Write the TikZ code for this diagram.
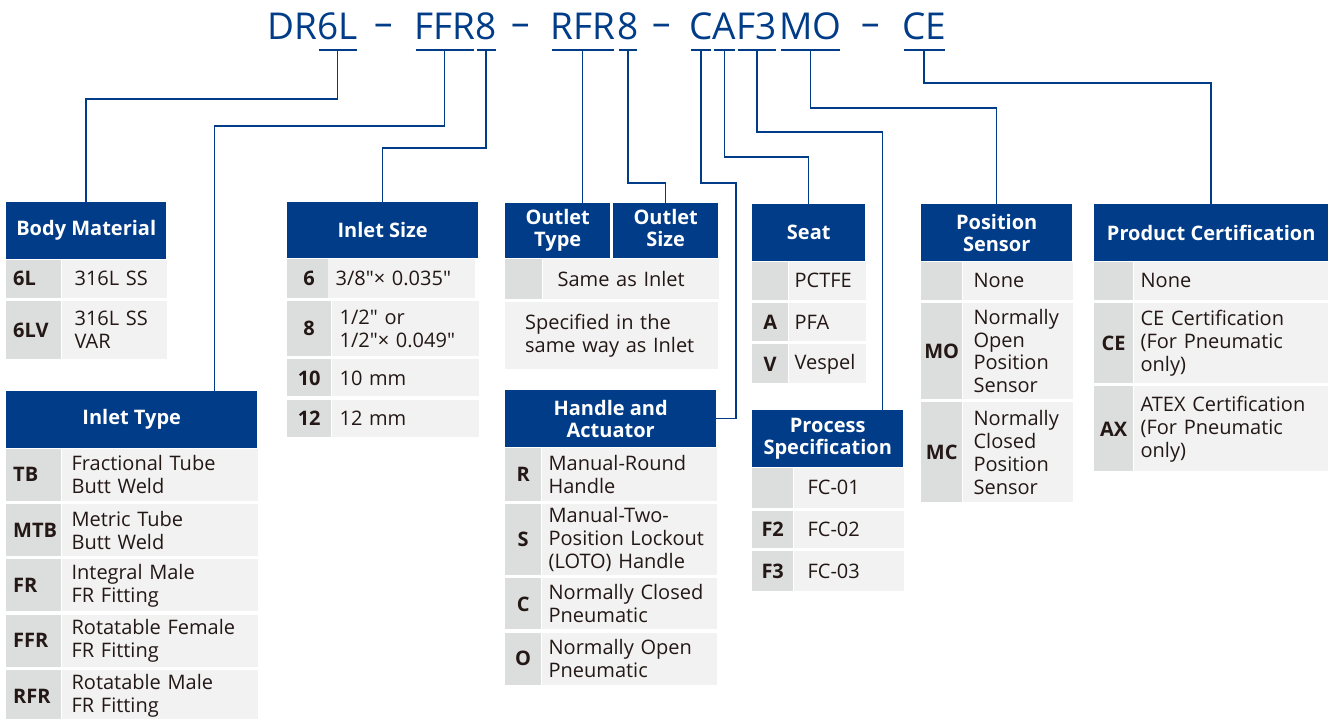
\documentclass[tikz,border=0pt]{standalone}
\usepackage{fontspec}
\setmainfont{Open Sans}[Ligatures=TeXOff]
\usepackage{tikz}
\usetikzlibrary{positioning,calc}

\definecolor{hblue}{RGB}{0,60,135}
\definecolor{cgray}{RGB}{220,221,221}
\definecolor{dgray}{RGB}{242,242,242}
\definecolor{ink}{RGB}{35,24,21}

\newcommand\bodyfont{\fontsize{20}{23}\selectfont}
\newcommand\hdfont{\fontsize{20}{22}\selectfont\bfseries}
\newcommand\segfont{\fontsize{37}{40}\selectfont}

% one table row: [desc opts]{node above}{name}{gap}{height}{code}{text}
\newcommand\trow[7][]{%
  \node[code, minimum height=#5] (#3c) at ([yshift=-#4]#2.south west) {#6};
  \node[desc, minimum height=#5, #1] (#3) at (#3c.north east) {#7};
}

\begin{document}
\begin{tikzpicture}[x=1pt, y=-1pt,
    hd/.style={fill=hblue, text=white, font=\hdfont, align=center, inner sep=0pt, anchor=north west},
    cd/.style={fill=cgray, text=ink, font=\bodyfont\bfseries, inner sep=0pt, anchor=north west},
    ds/.style={fill=dgray, text=ink, font=\bodyfont, align=left, inner ysep=0pt, anchor=north west},
    seg/.style={text=hblue, font=\segfont, inner sep=0pt, text depth=10pt, anchor=base west},
    ul/.style={hblue, line width=1.5pt, shorten <=1.5pt, shorten >=1.5pt},
    link/.style={hblue, line width=1.5pt}]
  \useasboundingbox (0,0) rectangle (1328,719);

  % ordering code
  \node[seg] (dr) at (267,40) {DR};
  \node[seg] (m6l) at (dr.base east) {6L};
  \node[seg, anchor=base] (d1) at (384,40) {\raisebox{4pt}{–}};
  \node[seg] (ffr) at (414,40) {FFR};
  \node[seg] (e8) at (ffr.base east) {8};
  \node[seg, anchor=base] (d2) at (521,40) {\raisebox{4pt}{–}};
  \node[seg] (rfr) at (550,40) {RFR};
  \node[seg] (o8) at ([xshift=2pt]rfr.base east) {8};
  \node[seg, anchor=base] (d3) at (662,40) {\raisebox{4pt}{–}};
  \node[seg] (c) at (689,40) {C};
  \node[seg] (a) at (c.base east) {A};
  \node[seg] (f3) at (a.base east) {F3};
  \node[seg] (mo) at ([xshift=2pt]f3.base east) {MO};
  \node[seg, anchor=base] (d4) at (871,40) {\raisebox{4pt}{–}};
  \node[seg] (ce) at (902,40) {CE};
  \foreach \s in {m6l,ffr,e8,rfr,o8,c,a,f3,mo,ce}
    \draw[ul] (\s.south west) -- (\s.south east);

  % Body Material
  \begin{scope}[code/.style={cd, text width=41pt, inner xsep=7pt, align=left},
                desc/.style={ds, text width=79pt, inner xsep=13pt}]
    \node[hd, minimum width=160pt, minimum height=57pt] (bmhd) at (6,202) {Body Material};
    \trow{bmhd}{bm1}{0pt}{38pt}{6L}{316L SS}
    \trow{bm1c}{bm2}{3pt}{58pt}{6LV}{316L SS\\VAR}
  \end{scope}

  % Inlet Type
  \begin{scope}[code/.style={cd, text width=41pt, inner xsep=7pt, align=left},
                desc/.style={ds, text width=176pt, inner xsep=10pt}]
    \node[hd, minimum width=251pt, minimum height=57pt] (ithd) at (6,391) {Inlet Type};
    \trow{ithd}{it1}{0pt}{52pt}{TB}{Fractional Tube\\Butt Weld}
    \trow{it1c}{it2}{3pt}{52pt}{MTB}{Metric Tube\\Butt Weld}
    \trow{it2c}{it3}{3pt}{52pt}{FR}{Integral Male\\FR Fitting}
    \trow{it3c}{it4}{3pt}{52pt}{FFR}{Rotatable Female\\FR Fitting}
    \trow{it4c}{it5}{3pt}{52pt}{RFR}{Rotatable Male\\FR Fitting}
  \end{scope}

  % Inlet Size
  \begin{scope}[code/.style={cd, minimum width=44pt},
                desc/.style={ds, text width=131pt, inner xsep=8pt}]
    \node[hd, minimum width=191pt, minimum height=56pt] (ishd) at (287,202) {Inlet Size};
    \trow[xshift=-4pt]{ishd}{is1}{0pt}{39pt}{6}{3/8"× 0.035"}
    \trow{is1c}{is2}{3pt}{55pt}{8}{1/2" or\\1/2"× 0.049"}
    \trow{is2c}{is3}{3pt}{37pt}{10}{10 mm}
    \trow{is3c}{is4}{3pt}{37pt}{12}{12 mm}
  \end{scope}

  % Outlet Type / Outlet Size
  \begin{scope}[code/.style={cd, minimum width=37pt},
                desc/.style={ds, text width=146pt, inner xsep=15pt}]
    \node[hd, minimum width=105pt, minimum height=55pt] (othd) at (505,203) {Outlet\\Type};
    \node[hd, minimum width=105pt, minimum height=55pt] (oshd) at (613,203) {Outlet\\Size\vphantom{y}};
    \trow{othd}{ot1}{0pt}{40pt}{}{Same as Inlet}
    \node[ds, text width=173pt, inner xsep=20pt, minimum height=67pt] (ot2)
      at ([yshift=-3pt]ot1c.south west) {Specified in the\\same way as Inlet};
  \end{scope}

  % Handle and Actuator
  \begin{scope}[code/.style={cd, minimum width=36pt},
                desc/.style={ds, text width=161pt, inner xsep=7pt}]
    \node[hd, minimum width=211pt, minimum height=57pt] (hahd) at (505,390) {Handle and\\Actuator};
    \trow{hahd}{ha1}{0pt}{53pt}{R}{Manual-Round\\Handle}
    \trow{ha1c}{ha2}{3pt}{71pt}{S}{Manual-Two-\\Position Lockout\\(LOTO) Handle}
    \trow{ha2c}{ha3}{3pt}{51pt}{C}{Normally Closed\\Pneumatic}
    \trow{ha3c}{ha4}{3pt}{52pt}{O}{Normally Open\\Pneumatic}
  \end{scope}

  % Seat
  \begin{scope}[code/.style={cd, minimum width=36pt},
                desc/.style={ds, text width=65pt, inner xsep=6pt}]
    \node[hd, minimum width=113pt, minimum height=57pt] (sthd) at (752,204) {Seat};
    \trow{sthd}{st1}{0pt}{38pt}{}{PCTFE}
    \trow{st1c}{st2}{3pt}{38pt}{A}{PFA}
    \trow{st2c}{st3}{3pt}{39pt}{V}{Vespel}
  \end{scope}

  % Process Specification
  \begin{scope}[code/.style={cd, minimum width=41pt},
                desc/.style={ds, text width=82pt, inner xsep=14pt}]
    \node[hd, minimum width=151pt, minimum height=57pt] (pshd) at (752,410) {Process\\Specification};
    \trow{pshd}{ps1}{0pt}{40pt}{}{FC-01}
    \trow{ps1c}{ps2}{3pt}{37pt}{F2}{FC-02}
    \trow{ps2c}{ps3}{3pt}{40pt}{F3}{FC-03}
  \end{scope}

  % Position Sensor
  \begin{scope}[code/.style={cd, minimum width=41pt},
                desc/.style={ds, text width=88pt, inner xsep=11pt}]
    \node[hd, minimum width=151pt, minimum height=57pt] (pohd) at (921,204) {Position\\Sensor};
    \trow{pohd}{po1}{0pt}{38pt}{}{None}
    \trow{po1c}{po2}{3pt}{96pt}{MO}{Normally\\Open\\Position\\Sensor}
    \trow{po2c}{po3}{3pt}{100pt}{MC}{Normally\\Closed\\Position\\Sensor}
  \end{scope}

  % Product Certification
  \begin{scope}[code/.style={cd, minimum width=39pt},
                desc/.style={ds, text width=181pt, inner xsep=7pt}]
    \node[hd, minimum width=234pt, minimum height=57pt] (pchd) at (1094,204) {Product Certification};
    \trow{pchd}{pc1}{0pt}{38pt}{}{None}
    \trow{pc1c}{pc2}{3pt}{80pt}{CE}{CE Certification\\(For Pneumatic\\only)}
    \trow{pc2c}{pc3}{3pt}{85pt}{AX}{ATEX Certification\\(For Pneumatic\\only)}
  \end{scope}

  % connectors
  \draw[link] (m6l.south) -- ++(0,49) -| (bmhd.north);
  \draw[link] (ffr.south) -- ++(0,76) -| ([xshift=-43pt]ithd.north east);
  \draw[link] (e8.south) -- ++(0,98) -| (ishd.north);
  \draw[link] (rfr.south) -- (rfr.south |- othd.north);
  \draw[link] (o8.south) -- ++(0,133) -| (oshd.north);
  \draw[link] (c.south) -- ++(0,133) -- ++(35,0) |- (hahd.east);
  \draw[link] (a.south) -- ++(0,107) -| (sthd.north);
  \draw[link] (f3.south) -- ++(0,82) -| ([xshift=-21pt]pshd.north east);
  \draw[link] (mo.south) -- ++(0,58) -| (pohd.north);
  \draw[link] (ce.south) -- ++(0,33) -| (pchd.north);
\end{tikzpicture}
\end{document}
